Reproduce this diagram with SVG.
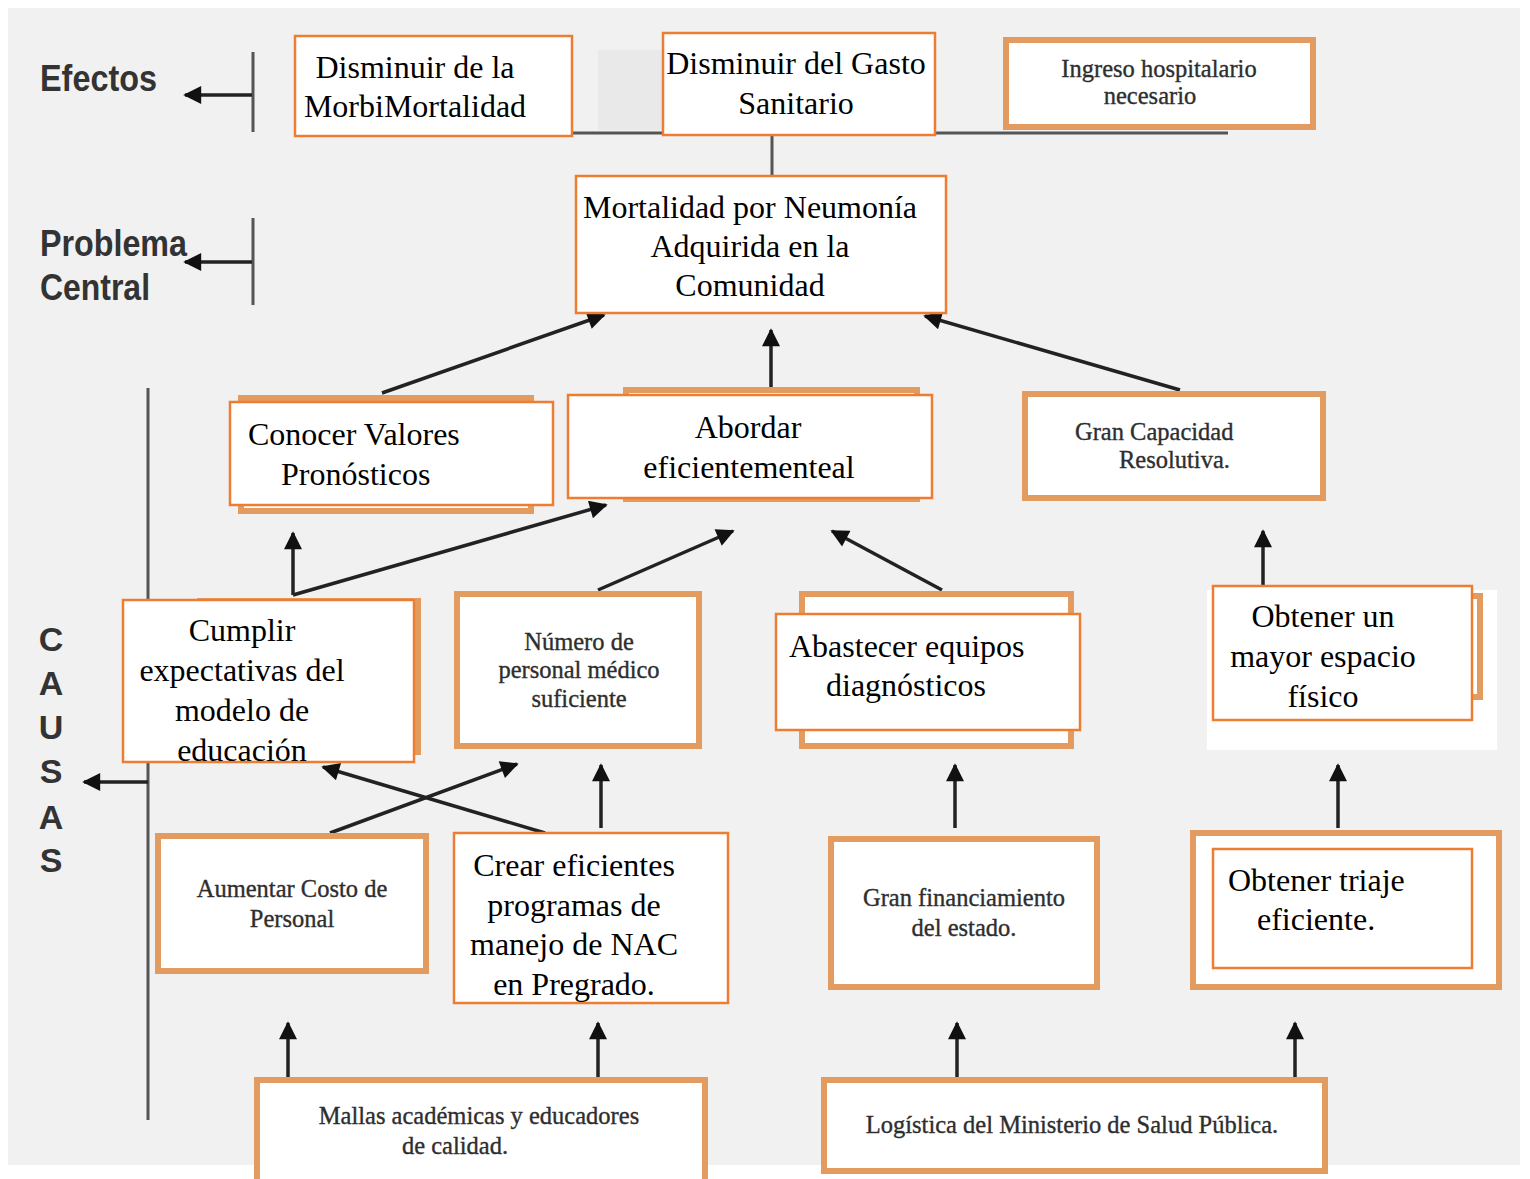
<svg xmlns="http://www.w3.org/2000/svg" width="1530" height="1179" viewBox="0 0 1530 1179">
<defs>
<style>
.old rect{fill:#fff;stroke:#E39B5F;stroke-width:6}
.new rect{fill:#fff;stroke:#ED7D31;stroke-width:2.5}
.t{font-family:"Liberation Serif","Times New Roman",serif;font-size:32px;fill:#000}
.ts{font-family:"Liberation Serif","Times New Roman",serif;font-size:24.5px;fill:#2e2e2e;stroke:#2e2e2e;stroke-width:0.35}
.m{text-anchor:middle}
.lbl{font-family:"Liberation Sans",Arial,sans-serif;font-weight:bold;fill:#333}
.bar{stroke:#555;stroke-width:3;fill:none}
.conn line{stroke:#222;stroke-width:3.5}
.arr{marker-end:url(#ah)}
</style>
<marker id="ah" viewBox="0 0 10 10" refX="9" refY="5" markerUnits="userSpaceOnUse" markerWidth="22" markerHeight="18" orient="auto">
<path d="M0,0 L10,5 L0,10 z" fill="#111"/>
</marker>
</defs>
<rect x="0" y="0" width="1530" height="1179" fill="#fff"/>
<rect x="8" y="8" width="1512" height="1157" fill="#f1f1f1"/>
<rect x="598" y="50" width="64" height="80" fill="#e9e9e9"/>
<rect x="1207" y="590" width="290" height="160" fill="#fff"/>

<g id="labels">
<text class="lbl" x="40" y="91" font-size="36" textLength="117" lengthAdjust="spacingAndGlyphs">Efectos</text>
<text class="lbl" x="40" y="256" font-size="36" textLength="147" lengthAdjust="spacingAndGlyphs">Problema</text>
<text class="lbl" x="40" y="300" font-size="36" textLength="110" lengthAdjust="spacingAndGlyphs">Central</text>
<g class="lbl" font-size="34" text-anchor="middle">
<text x="51" y="651">C</text>
<text x="51" y="695">A</text>
<text x="51" y="739">U</text>
<text x="51" y="783">S</text>
<text x="51" y="829">A</text>
<text x="51" y="872">S</text>
</g>
</g>

<g id="connectors">
<line class="bar" x1="253" y1="52" x2="253" y2="132"/>
<line class="bar" x1="253" y1="218" x2="253" y2="305"/>
<line class="bar" x1="148" y1="388" x2="148" y2="1120"/>
<line class="bar" x1="572" y1="133" x2="1228" y2="133"/>
<line class="bar" x1="772" y1="135" x2="772" y2="176"/>
<g class="conn">
<line class="arr" x1="252" y1="95" x2="185" y2="95"/>
<line class="arr" x1="252" y1="262" x2="185" y2="262"/>
<line class="arr" x1="148" y1="782" x2="84" y2="782"/>
<line class="arr" x1="382" y1="393" x2="604" y2="315"/>
<line class="arr" x1="771" y1="388" x2="771" y2="330"/>
<line class="arr" x1="1180" y1="390" x2="925" y2="316"/>
<line class="arr" x1="293" y1="595" x2="293" y2="533"/>
<line class="arr" x1="293" y1="595" x2="606" y2="505"/>
<line class="arr" x1="598" y1="590" x2="733" y2="531"/>
<line class="arr" x1="942" y1="590" x2="832" y2="531"/>
<line class="arr" x1="1263" y1="585" x2="1263" y2="531"/>
<line class="arr" x1="330" y1="833" x2="517" y2="764"/>
<line class="arr" x1="545" y1="833" x2="323" y2="767"/>
<line class="arr" x1="601" y1="828" x2="601" y2="765"/>
<line class="arr" x1="955" y1="828" x2="955" y2="765"/>
<line class="arr" x1="1338" y1="828" x2="1338" y2="765"/>
<line class="arr" x1="288" y1="1078" x2="288" y2="1023"/>
<line class="arr" x1="598" y1="1078" x2="598" y2="1023"/>
<line class="arr" x1="957" y1="1078" x2="957" y2="1023"/>
<line class="arr" x1="1295" y1="1078" x2="1295" y2="1023"/>
</g>
</g>

<g id="n-morbi" class="new">
<rect x="295" y="36" width="277" height="100"/>
<text class="t m" x="415" y="78">Disminuir de la</text>
<text class="t m" x="415" y="117">MorbiMortalidad</text>
</g>
<g id="n-gasto" class="new">
<rect x="663" y="33" width="272" height="102"/>
<text class="t m" x="796" y="74">Disminuir del Gasto</text>
<text class="t m" x="796" y="114">Sanitario</text>
</g>
<g id="n-ingreso" class="old">
<rect x="1006" y="40" width="307" height="87"/>
<text class="ts m" x="1159" y="77">Ingreso hospitalario</text>
<text class="ts m" x="1150" y="104">necesario</text>
</g>
<g id="n-central" class="new">
<rect x="576" y="176" width="370" height="137"/>
<text class="t m" x="750" y="218">Mortalidad por Neumonía</text>
<text class="t m" x="750" y="257">Adquirida en la</text>
<text class="t m" x="750" y="296">Comunidad</text>
</g>

<g id="n-conocer">
<g class="old"><rect x="241" y="398" width="290" height="113"/></g>
<g class="new"><rect x="230" y="402" width="323" height="103"/></g>
<text class="t" x="248" y="445">Conocer Valores</text>
<text class="t" x="281" y="485">Pronósticos</text>
</g>
<g id="n-abordar">
<g class="old"><rect x="626" y="390" width="291" height="109"/></g>
<g class="new"><rect x="568" y="395" width="364" height="103"/></g>
<text class="t m" x="748" y="438">Abordar</text>
<text class="t m" x="749" y="478">eficientementeal</text>
</g>
<g id="n-capacidad" class="old">
<rect x="1025" y="394" width="298" height="104"/>
<text class="ts" x="1075" y="440">Gran Capacidad</text>
<text class="ts" x="1119" y="468">Resolutiva.</text>
</g>

<g id="n-cumplir">
<g class="old"><rect x="200" y="601" width="218" height="151"/></g>
<g class="new"><rect x="123" y="600" width="291" height="162"/></g>
<text class="t m" x="242" y="641">Cumplir</text>
<text class="t m" x="242" y="681">expectativas del</text>
<text class="t m" x="242" y="721">modelo de</text>
<text class="t m" x="242" y="761">educación</text>
</g>
<g id="n-numero" class="old">
<rect x="457" y="594" width="242" height="152"/>
<text class="ts m" x="579" y="650">Número de</text>
<text class="ts m" x="579" y="678">personal médico</text>
<text class="ts m" x="579" y="707">suficiente</text>
</g>
<g id="n-abastecer">
<g class="old"><rect x="802" y="594" width="269" height="152"/></g>
<g class="new"><rect x="776" y="614" width="304" height="116"/></g>
<text class="t" x="789" y="657">Abastecer equipos</text>
<text class="t" x="826" y="696">diagnósticos</text>
</g>
<g id="n-espacio">
<g class="old"><rect x="1300" y="596" width="180" height="101"/></g>
<g class="new"><rect x="1213" y="586" width="259" height="134"/></g>
<text class="t m" x="1323" y="627">Obtener un</text>
<text class="t m" x="1323" y="667">mayor espacio</text>
<text class="t m" x="1323" y="707">físico</text>
</g>

<g id="n-aumentar" class="old">
<rect x="158" y="836" width="268" height="135"/>
<text class="ts m" x="292" y="897">Aumentar Costo de</text>
<text class="ts m" x="292" y="927">Personal</text>
</g>
<g id="n-crear" class="new">
<rect x="454" y="833" width="274" height="170"/>
<text class="t m" x="574" y="876">Crear eficientes</text>
<text class="t m" x="574" y="916">programas de</text>
<text class="t m" x="574" y="955">manejo de NAC</text>
<text class="t m" x="574" y="995">en Pregrado.</text>
</g>
<g id="n-financiamiento" class="old">
<rect x="831" y="839" width="266" height="148"/>
<text class="ts m" x="964" y="906">Gran financiamiento</text>
<text class="ts m" x="964" y="936">del estado.</text>
</g>
<g id="n-triaje">
<g class="old"><rect x="1193" y="833" width="306" height="154"/></g>
<g class="new"><rect x="1213" y="849" width="259" height="119"/></g>
<text class="t" x="1228" y="891">Obtener triaje</text>
<text class="t" x="1257" y="930">eficiente.</text>
</g>

<g id="n-mallas" class="old">
<rect x="257" y="1080" width="448" height="104"/>
<text class="ts m" x="479" y="1124">Mallas académicas y educadores</text>
<text class="ts m" x="455" y="1154">de calidad.</text>
</g>
<g id="n-logistica" class="old">
<rect x="824" y="1080" width="501" height="91"/>
<text class="ts m" x="1072" y="1133">Logística del Ministerio de Salud Pública.</text>
</g>
</svg>
